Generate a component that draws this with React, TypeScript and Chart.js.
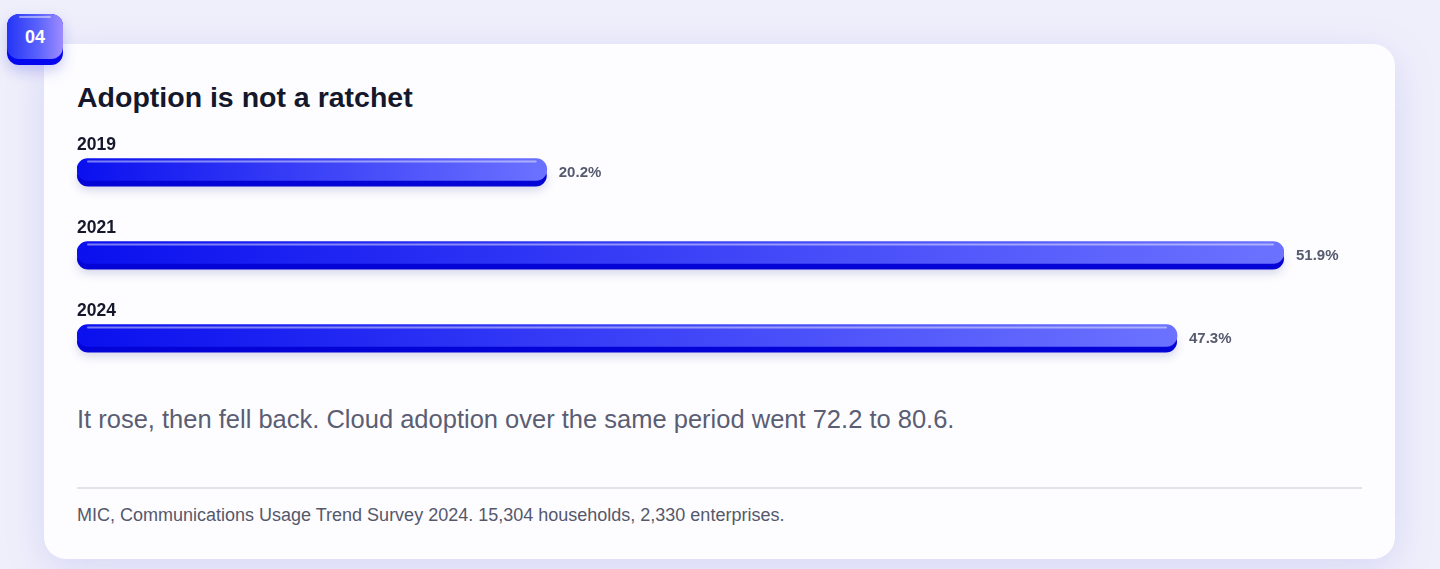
import React, { useEffect, useRef } from "react";
import { Chart, registerables } from "chart.js";

Chart.register(...registerables);

const years = ["2019", "2021", "2024"];
const shares = [20.2, 51.9, 47.3];

const FONT = "Helvetica, Arial, 'Liberation Sans', sans-serif";

function roundRect(ctx: CanvasRenderingContext2D, x: number, y: number, w: number, h: number, r: number) {
  const rr = Math.min(r, h / 2, w / 2);
  ctx.beginPath();
  ctx.moveTo(x + rr, y);
  ctx.lineTo(x + w - rr, y);
  ctx.arc(x + w - rr, y + rr, rr, -Math.PI / 2, 0);
  ctx.lineTo(x + w, y + h - rr);
  ctx.arc(x + w - rr, y + h - rr, rr, 0, Math.PI / 2);
  ctx.lineTo(x + rr, y + h);
  ctx.arc(x + rr, y + h - rr, rr, Math.PI / 2, Math.PI);
  ctx.lineTo(x, y + rr);
  ctx.arc(x + rr, y + rr, rr, Math.PI, Math.PI * 1.5);
  ctx.closePath();
}

// lip + shadow under each bar, highlight and labels on top
const barDecor = {
  id: "barDecor",
  beforeDatasetsDraw(chart: any) {
    const ctx: CanvasRenderingContext2D = chart.ctx;
    const meta = chart.getDatasetMeta(0);
    meta.data.forEach((bar: any) => {
      const h = bar.height;
      const left = bar.base;
      const w = bar.x - bar.base;
      const top = bar.y - h / 2;
      ctx.save();
      ctx.shadowColor = "rgba(40, 40, 140, 0.18)";
      ctx.shadowBlur = 10;
      ctx.shadowOffsetY = 4;
      ctx.fillStyle = "#0404d6";
      roundRect(ctx, left, top + 6, w, h, h / 2);
      ctx.fill();
      ctx.restore();
    });
  },
  afterDatasetsDraw(chart: any) {
    const ctx: CanvasRenderingContext2D = chart.ctx;
    const meta = chart.getDatasetMeta(0);
    meta.data.forEach((bar: any, i: number) => {
      const h = bar.height;
      const left = bar.base;
      const right = bar.x;
      const top = bar.y - h / 2;
      ctx.save();
      ctx.strokeStyle = "rgba(255,255,255,0.45)";
      ctx.lineWidth = 2;
      ctx.lineCap = "round";
      ctx.beginPath();
      ctx.moveTo(left + 11, top + 3);
      ctx.lineTo(right - 11, top + 3);
      ctx.stroke();

      ctx.fillStyle = "#15172b";
      ctx.font = `bold 17.5px ${FONT}`;
      ctx.textBaseline = "alphabetic";
      ctx.textAlign = "left";
      ctx.fillText(years[i], left, top - 9);

      ctx.fillStyle = "#565a6e";
      ctx.font = `bold 15px ${FONT}`;
      ctx.textBaseline = "middle";
      ctx.fillText(`${shares[i]}%`, right + 12, top + h / 2 + 3);
      ctx.restore();
    });
  },
};

function ShareBars() {
  const canvasRef = useRef<HTMLCanvasElement>(null);
  const chartRef = useRef<Chart | null>(null);

  useEffect(() => {
    if (!canvasRef.current) return;
    chartRef.current?.destroy();

    chartRef.current = new Chart(canvasRef.current, {
      type: "bar",
      data: {
        labels: years,
        datasets: [
          {
            data: shares,
            barThickness: 22,
            borderRadius: 11,
            borderSkipped: false,
            backgroundColor: (c: any) => {
              const chart = c.chart;
              const xs = chart.scales?.x;
              if (!xs || !chart.chartArea) return "#3a44f8";
              const x0 = xs.getPixelForValue(0);
              const x1 = xs.getPixelForValue(shares[c.dataIndex] ?? 0);
              const g = chart.ctx.createLinearGradient(x0, 0, Math.max(x1, x0 + 1), 0);
              g.addColorStop(0, "#0a10ee");
              g.addColorStop(1, "#6c72ff");
              return g;
            },
          },
        ],
      },
      options: {
        indexAxis: "y",
        animation: false,
        responsive: false,
        maintainAspectRatio: false,
        layout: { padding: { left: 20, right: 98, top: 0, bottom: 0 } },
        plugins: {
          legend: { display: false },
          tooltip: { enabled: false },
        },
        scales: {
          x: { display: false, min: 0, max: Math.max(...shares) },
          y: { display: false },
        },
      },
      plugins: [barDecor],
    });

    return () => {
      chartRef.current?.destroy();
      chartRef.current = null;
    };
  }, []);

  return <canvas ref={canvasRef} width={1325} height={249} style={{ display: "block", width: 1325, height: 249 }} />;
}

export default function App() {
  return (
    <div
      style={{
        position: "absolute",
        left: 0,
        top: 0,
        width: 1440,
        height: 569,
        overflow: "hidden",
        background: "#efeffb",
        fontFamily: FONT,
      }}
    >
      <div
        style={{
          position: "absolute",
          left: 44,
          top: 44,
          width: 1351,
          height: 515,
          borderRadius: 22,
          background: "#fdfdff",
          boxShadow: "0 10px 40px rgba(120, 120, 230, 0.2)",
        }}
      />
      {/* badge */}
      <div
        style={{
          position: "absolute",
          left: 7,
          top: 14,
          width: 56,
          height: 51,
          borderRadius: 12,
          background: "#0508ee",
          boxShadow: "0 6px 14px rgba(60, 60, 220, 0.25)",
        }}
      />
      <div
        style={{
          position: "absolute",
          left: 7,
          top: 14,
          width: 56,
          height: 45,
          borderRadius: 12,
          background: "linear-gradient(90deg, #2434f6 0%, #5a62fb 55%, #9e8cff 100%)",
          color: "#fff",
          fontWeight: 700,
          fontSize: 18,
          display: "flex",
          alignItems: "center",
          justifyContent: "center",
          paddingTop: 2,
          boxSizing: "border-box",
        }}
      >
        <div
          style={{
            position: "absolute",
            left: 12,
            right: 12,
            top: 2,
            height: 2,
            borderRadius: 1,
            background: "rgba(255,255,255,0.45)",
          }}
        />
        04
      </div>
      <div
        style={{
          position: "absolute",
          left: 77,
          top: 80,
          fontSize: 28.5,
          fontWeight: 700,
          color: "#15172b",
          lineHeight: "34px",
          whiteSpace: "nowrap",
        }}
      >
        Adoption is not a ratchet
      </div>
      <div style={{ position: "absolute", left: 57, top: 128 }}>
        <ShareBars />
      </div>
      <div
        style={{
          position: "absolute",
          left: 77,
          top: 403,
          fontSize: 25.5,
          color: "#5b5e73",
          lineHeight: "32px",
          whiteSpace: "nowrap",
        }}
      >
        It rose, then fell back. Cloud adoption over the same period went 72.2 to 80.6.
      </div>
      <div style={{ position: "absolute", left: 77, top: 487, width: 1285, height: 2, background: "#e3e3ea" }} />
      <div
        style={{
          position: "absolute",
          left: 77,
          top: 504,
          fontSize: 18,
          color: "#55586b",
          lineHeight: "22px",
          whiteSpace: "nowrap",
        }}
      >
        MIC, Communications Usage Trend Survey 2024. 15,304 households, 2,330 enterprises.
      </div>
    </div>
  );
}
